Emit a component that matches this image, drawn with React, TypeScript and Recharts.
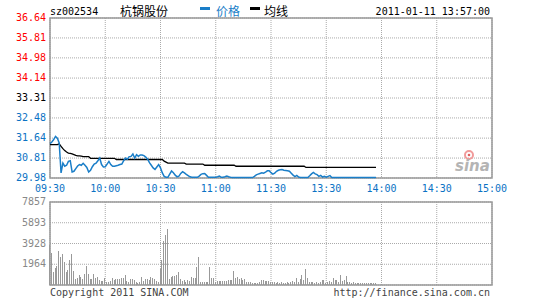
import React from 'react';
import { LineChart, Line, BarChart, Bar, XAxis, YAxis, CartesianGrid, ReferenceArea } from 'recharts';

const MONO = '"DejaVu Sans Mono", "Liberation Mono", monospace';
const RED = '#ff0000';
const BLUE = '#0a72c4';
const LINE_BLUE = '#1a7ec8';
const GRID = '#aaaaaa';
const BORDER = '#999999';

// 昨收
const prevClose = 33.31;

// 时间轴（分钟序号，0 = 09:30，240 = 15:00）
const timeTicks = [0, 30, 60, 90, 120, 150, 180, 210, 240];
const timeLabels = ['09:30', '10:00', '10:30', '11:00', '11:30', '13:30', '14:00', '14:30', '15:00'];

const priceTicks = [29.98, 30.81, 31.64, 32.48, 33.31, 34.14, 34.98, 35.81, 36.64];
const pctTicks = [-10, -7.5, -5, -2.5, 0, 2.5, 5, 7.5, 10];
const volTicks = [0, 1964, 3928, 5893, 7857];

// 每分钟价格 09:30 - 13:57
const prices = [
  31.41, 31.48, 31.58, 31.71, 31.64, 31.44, 30.19, 30.60, 30.47, 30.51,
  30.67, 30.70, 30.23, 30.26, 30.37, 30.48, 30.54, 30.51, 30.59, 30.51,
  30.42, 30.23, 30.30, 30.45, 30.56, 30.60, 30.70, 30.81, 30.54, 30.44,
  30.45, 30.56, 30.67, 30.54, 30.47, 30.47, 30.49, 30.51, 30.54, 30.56,
  30.70, 30.81, 30.76, 30.87, 30.88, 30.98, 30.81, 30.95, 30.88, 30.94,
  30.94, 30.91, 30.85, 30.76, 30.62, 30.51, 30.40, 30.34, 30.44, 30.54,
  30.40, 30.19, 30.05, 30.01, 30.01, 30.14, 30.27, 30.20, 30.10, 30.03,
  30.06, 30.17, 30.24, 30.19, 30.13, 30.08, 30.03, 30.01, 30.01, 30.01,
  30.01, 30.06, 30.13, 30.16, 30.17, 30.09, 30.01, 30.01, 30.01, 30.01,
  30.01, 30.03, 30.06, 30.01, 30.01, 30.03, 30.06, 30.03, 30.01, 30.00,
  30.00, 30.00, 30.00, 30.00, 30.00, 30.00, 30.00, 30.00, 30.00, 30.00,
  30.00, 30.05, 30.11, 30.14, 30.17, 30.20, 30.18, 30.22, 30.28, 30.28,
  30.20, 30.14, 30.18, 30.26, 30.30, 30.32, 30.33, 30.30, 30.29, 30.28,
  30.26, 30.18, 30.10, 30.04, 30.09, 30.02, 30.00, 30.00, 30.00, 30.00,
  30.00, 30.07, 30.15, 30.21, 30.15, 30.12, 30.05, 30.09, 30.02, 30.05,
  30.01, 30.05, 30.08, 30.00, 30.00, 30.00, 30.00, 30.00, 30.00, 30.00,
  30.00, 30.00, 30.00, 30.00, 30.00, 30.00, 30.00, 30.00, 30.00, 30.00,
  30.00, 30.00, 30.00, 30.00, 30.00, 30.00, 30.00, 30.00,
];

// 均价线
const avgPrices = [
  31.37, 31.37, 31.37, 31.37, 31.37, 31.40, 31.30, 31.20, 31.12, 31.06,
  31.02, 31.00, 30.98, 30.95, 30.92, 30.90, 30.90, 30.89, 30.87, 30.87,
  30.87, 30.87, 30.80, 30.80, 30.80, 30.80, 30.80, 30.80, 30.80, 30.80,
  30.80, 30.80, 30.80, 30.80, 30.80, 30.80, 30.75, 30.75, 30.75, 30.75,
  30.75, 30.75, 30.75, 30.75, 30.75, 30.75, 30.75, 30.75, 30.75, 30.75,
  30.75, 30.75, 30.75, 30.75, 30.75, 30.75, 30.75, 30.75, 30.75, 30.75,
  30.75, 30.75, 30.68, 30.64, 30.60, 30.60, 30.60, 30.60, 30.60, 30.60,
  30.60, 30.60, 30.60, 30.60, 30.56, 30.56, 30.56, 30.56, 30.56, 30.56,
  30.56, 30.56, 30.56, 30.56, 30.51, 30.51, 30.51, 30.51, 30.51, 30.51,
  30.51, 30.51, 30.51, 30.51, 30.51, 30.51, 30.51, 30.51, 30.51, 30.51,
  30.51, 30.47, 30.47, 30.47, 30.47, 30.47, 30.47, 30.47, 30.47, 30.47,
  30.47, 30.47, 30.47, 30.47, 30.47, 30.47, 30.47, 30.47, 30.47, 30.47,
  30.47, 30.47, 30.47, 30.47, 30.47, 30.47, 30.47, 30.47, 30.47, 30.47,
  30.47, 30.47, 30.47, 30.47, 30.47, 30.47, 30.47, 30.47, 30.47, 30.42,
  30.42, 30.42, 30.42, 30.42, 30.42, 30.42, 30.42, 30.42, 30.42, 30.42,
  30.42, 30.42, 30.42, 30.42, 30.42, 30.42, 30.42, 30.42, 30.42, 30.42,
  30.42, 30.42, 30.42, 30.42, 30.42, 30.42, 30.42, 30.42, 30.42, 30.42,
  30.42, 30.42, 30.42, 30.42, 30.42, 30.42, 30.42, 30.42,
];

// 每分钟成交量（手）
const volumes = [
  3790, 3000, 1200, 1580, 1800, 3220, 2680, 2940, 2200, 1260,
  1420, 2370, 2900, 1330, 570, 690, 950, 790, 540, 1040,
  1800, 1040, 540, 540, 1040, 630, 790, 470, 350, 420,
  630, 320, 320, 400, 630, 470, 540, 540, 540, 660,
  630, 950, 420, 320, 540, 540, 470, 320, 220, 320,
  730, 420, 540, 540, 470, 790, 630, 600, 420, 320,
  1480, 2370, 4200, 4730, 5300, 540, 790, 850, 850, 950,
  1230, 540, 420, 470, 320, 470, 420, 730, 690, 690,
  1680, 2680, 320, 280, 320, 280, 320, 1700, 690, 690,
  320, 420, 350, 420, 420, 350, 420, 470, 470, 470,
  1330, 630, 790, 600, 690, 470, 600, 320, 280, 280,
  220, 220, 220, 220, 250, 470, 470, 420, 420, 420,
  280, 320, 320, 220, 320, 220, 280, 220, 220, 280,
  220, 280, 380, 280, 660, 280, 600, 980, 470, 1490,
  660, 280, 280, 280, 220, 280, 220, 280, 470, 470,
  220, 280, 380, 280, 660, 440, 470, 280, 980, 380,
  470, 850, 300, 280, 220, 280, 160, 220, 160, 220,
  160, 220, 160, 160, 220, 160, 160, 220,
];

const TimeTick = (props: any) => {
  const { x, y, payload } = props;
  const idx = timeTicks.indexOf(payload.value);
  return (
    <text x={x} y={y} dy={14} textAnchor="middle" fill={BLUE} fontSize={10} fontFamily={MONO}>
      {timeLabels[idx]}
    </text>
  );
};

const PriceTick = (props: any) => {
  const { x, y, payload } = props;
  const v = payload.value;
  const color = Math.abs(v - prevClose) < 0.001 ? '#000' : v > prevClose ? RED : BLUE;
  return (
    <text x={x} y={y} dy={3} textAnchor="end" fill={color} fontSize={10} fontFamily={MONO}>
      {v.toFixed(2)}
    </text>
  );
};

const PctTick = (props: any) => {
  const { x, y, payload } = props;
  const v = payload.value;
  const color = v === 0 ? '#000' : v > 0 ? RED : BLUE;
  const label = (v > 0 ? '+' : '') + v.toFixed(2) + '%';
  return (
    <text x={x} y={y} dy={3} textAnchor="start" fill={color} fontSize={10} fontFamily={MONO}>
      {label}
    </text>
  );
};

const VolTick = (props: any) => {
  const { x, y, payload } = props;
  if (payload.value === 0) return null;
  return (
    <text x={x} y={y} dy={3} textAnchor="end" fill="#888" fontSize={10} fontFamily={MONO}>
      {payload.value}
    </text>
  );
};

export default function App() {
  const priceData = prices.map((p, i) => ({ t: i, price: p, avg: avgPrices[i] }));
  const volData = volumes.map((v, i) => ({ t: i, vol: v }));

  return (
    <div style={{ position: 'relative', width: 545, height: 300, background: '#fff' }}>
      <style>{`body{margin:0} .vol-bars path{shape-rendering:crispEdges}`}</style>

      <div style={{ position: 'absolute', left: 0, top: 0 }}>
        <LineChart width={545} height={198} data={priceData} margin={{ top: 18, right: 0, bottom: 6, left: 0 }}>
          <CartesianGrid yAxisId="left" stroke={GRID} strokeDasharray="1 1" />
          <XAxis
            type="number"
            dataKey="t"
            domain={[0, 240]}
            ticks={timeTicks}
            interval={0}
            tick={(p: any) => <TimeTick {...p} />}
            axisLine={false}
            tickLine={false}
            tickSize={0}
            tickMargin={0}
            height={14}
          />
          <YAxis
            yAxisId="left"
            domain={[29.98, 36.64]}
            ticks={priceTicks}
            interval={0}
            tick={(p: any) => <PriceTick {...p} />}
            axisLine={false}
            tickLine={false}
            tickSize={0}
            tickMargin={4}
            width={50}
          />
          <YAxis
            yAxisId="right"
            orientation="right"
            domain={[-10, 10]}
            ticks={pctTicks}
            interval={0}
            tick={(p: any) => <PctTick {...p} />}
            axisLine={false}
            tickLine={false}
            tickSize={0}
            tickMargin={2}
            width={53}
          />
          <ReferenceArea yAxisId="left" x1={0} x2={240} y1={29.98} y2={36.64} fill="none" fillOpacity={0} stroke={BORDER} strokeWidth={1.5} />
          <Line yAxisId="left" type="linear" dataKey="avg" stroke="#000" strokeWidth={1.3} dot={false} isAnimationActive={false} />
          <Line yAxisId="left" type="linear" dataKey="price" stroke={LINE_BLUE} strokeWidth={1.5} dot={false} isAnimationActive={false} />
        </LineChart>
      </div>

      <div style={{ position: 'absolute', left: 0, top: 195 }}>
        <BarChart width={545} height={100} data={volData} margin={{ top: 7, right: 53, bottom: 10, left: 0 }}>
          <CartesianGrid stroke={GRID} strokeDasharray="1 1" />
          <XAxis type="number" dataKey="t" domain={[0, 240]} ticks={timeTicks} interval={0} hide />
          <YAxis
            domain={[0, 7857]}
            ticks={volTicks}
            interval={0}
            tick={(p: any) => <VolTick {...p} />}
            axisLine={false}
            tickLine={false}
            tickSize={0}
            tickMargin={4}
            width={50}
          />
          <ReferenceArea x1={0} x2={240} y1={0} y2={7857} fill="none" fillOpacity={0} stroke={BORDER} strokeWidth={1.5} />
          <Bar className="vol-bars" dataKey="vol" fill="#999" barSize={1} isAnimationActive={false} />
        </BarChart>
      </div>

      <svg width={545} height={300} style={{ position: 'absolute', left: 0, top: 0, pointerEvents: 'none' }}>
        <text x={50} y={15} fontSize={10} fontFamily={MONO} fill="#000">sz002534</text>
        <text x={120} y={16} fontSize={12} fontFamily='"Noto Sans CJK SC", sans-serif' fill="#000">杭锅股份</text>
        <rect x={200} y={7} width={10} height={3} fill={LINE_BLUE} />
        <text x={216} y={16} fontSize={12} fontFamily='"Noto Sans CJK SC", sans-serif' fill={LINE_BLUE}>价格</text>
        <rect x={250} y={7} width={10} height={3} fill="#000" />
        <text x={264} y={16} fontSize={12} fontFamily='"Noto Sans CJK SC", sans-serif' fill="#000">均线</text>
        <text x={490} y={15} fontSize={10} fontFamily={MONO} fill="#000" textAnchor="end">2011-01-11 13:57:00</text>

        <circle cx={469} cy={155} r={4} fill="none" stroke="#f19a9a" strokeWidth={2} />
        <circle cx={469} cy={155} r={1.3} fill="#e06060" />
        <text x={455} y={171} fontSize={15} fontWeight="bold" fontStyle="italic" fontFamily='"DejaVu Sans", sans-serif' fill="#b4b4b4">sina</text>

        <text x={50} y={296} fontSize={10} fontFamily={MONO} fill="#444">Copyright 2011 SINA.COM</text>
        <text x={490} y={296} fontSize={10} fontFamily={MONO} fill="#444" textAnchor="end">http://finance.sina.com.cn</text>
      </svg>
    </div>
  );
}
